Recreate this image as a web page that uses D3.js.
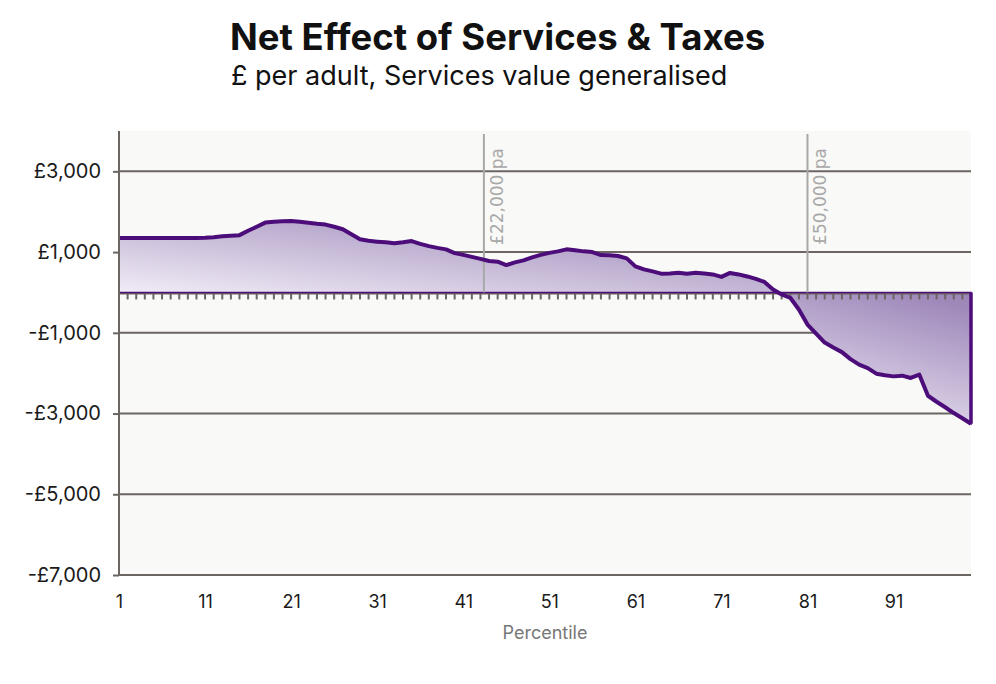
<!DOCTYPE html>
<html lang="en">
<head>
<meta charset="UTF-8">
<title>Net Effect of Services & Taxes</title>
<script src="https://cdn.jsdelivr.net/npm/d3@7/dist/d3.min.js"></script>
<style>
  body { margin: 0; background: #fff; }
  text { font-family: Inter, "Noto Sans", sans-serif; }
</style>
</head>
<body>
<script>
// percentiles 1..100
var percentiles = d3.range(1, 101);
// net effect, £ per adult
var netEffect = [
  1350, 1350, 1350, 1350, 1350, 1350, 1350, 1350, 1350, 1350,
  1355, 1370, 1390, 1405, 1420, 1528, 1627, 1731, 1751, 1764,
  1771, 1751, 1726, 1700, 1682, 1627, 1565, 1440, 1316, 1279,
  1259, 1242, 1217, 1242, 1274, 1205, 1148, 1105, 1068, 974,
  931, 882, 832, 778, 763, 678, 745, 795, 869, 931,
  981, 1018, 1068, 1043, 1018, 1001, 927, 919, 902, 845,
  646, 571, 522, 465, 472, 489, 465, 489, 472, 447,
  385, 484, 447, 397, 335, 261, 75, -50, -132, -422,
  -795, -1018, -1242, -1366, -1478, -1652, -1788, -1875, -2012, -2049,
  -2079, -2062, -2119, -2037, -2559, -2708, -2844, -2988, -3117, -3254
];
var xTicks = [1, 11, 21, 31, 41, 51, 61, 71, 81, 91];
var yTicks = [-7000, -5000, -3000, -1000, 1000, 3000];
// income markers (percentile where they fall)
var markerLabels = ["£22,000 pa", "£50,000 pa"];
var markerPos = [43.4, 81];

var data = percentiles.map(function(p, i) { return { p: p, v: netEffect[i] }; });

var width = 996, height = 684;
var margin = { top: 131, right: 25, bottom: 109, left: 119 };

var svg = d3.select("body").append("svg")
  .attr("width", width).attr("height", height);

var x = d3.scaleLinear().domain([1, 100]).range([margin.left, width - margin.right]);
var y = d3.scaleLinear().domain([-7000, 4000]).range([height - margin.bottom, margin.top]);

var gridColor = "#6b6661";
var purple = "#4c0c7a";

// gradients for the two area parts
var defs = svg.append("defs");
var gPos = defs.append("linearGradient").attr("id", "gradPos")
  .attr("x1", 0).attr("y1", 1).attr("x2", 1).attr("y2", 0);
gPos.append("stop").attr("offset", "0%").attr("stop-color", "#f1ecf6");
gPos.append("stop").attr("offset", "100%").attr("stop-color", "#9782b5");
var gNeg = defs.append("linearGradient").attr("id", "gradNeg")
  .attr("x1", 0.3).attr("y1", 1).attr("x2", 0.7).attr("y2", 0);
gNeg.append("stop").attr("offset", "0%").attr("stop-color", "#ebe5f2");
gNeg.append("stop").attr("offset", "100%").attr("stop-color", "#9e88ba");

// plot background
svg.append("rect")
  .attr("x", margin.left).attr("y", margin.top)
  .attr("width", x(100) - margin.left).attr("height", y(-7000) - margin.top)
  .attr("fill", "#f9f9f7");

// horizontal gridlines
svg.append("g").selectAll("line")
  .data(yTicks)
  .enter().append("line")
  .attr("x1", margin.left).attr("x2", x(100))
  .attr("y1", function(d) { return y(d); }).attr("y2", function(d) { return y(d); })
  .attr("stroke", gridColor).attr("stroke-width", 2);

// areas above and below zero, each with its own gradient
var areaPos = d3.area()
  .x(function(d) { return x(d.p); })
  .y0(y(0))
  .y1(function(d) { return y(Math.max(d.v, 0)); });
var areaNeg = d3.area()
  .x(function(d) { return x(d.p); })
  .y0(y(0))
  .y1(function(d) { return y(Math.min(d.v, 0)); });

svg.append("path").datum(data.filter(function(d) { return d.p <= 78; }))
  .attr("d", areaPos).attr("fill", "url(#gradPos)");
svg.append("path").datum(data.filter(function(d) { return d.p >= 77; }))
  .attr("d", areaNeg).attr("fill", "url(#gradNeg)");

// zero line + small ticks underneath
svg.append("line")
  .attr("x1", margin.left).attr("x2", x(100))
  .attr("y1", y(0) + 1).attr("y2", y(0) + 1)
  .attr("stroke", gridColor).attr("stroke-width", 2);
svg.append("g").selectAll("line")
  .data(d3.range(2, 101))
  .enter().append("line")
  .attr("x1", function(d) { return x(d); }).attr("x2", function(d) { return x(d); })
  .attr("y1", y(0) + 1).attr("y2", y(0) + 7)
  .attr("stroke", gridColor).attr("stroke-width", 2);

// outline of area along zero and the ends
svg.append("path")
  .datum(data)
  .attr("d", d3.area().x(function(d) { return x(d.p); }).y0(y(0)).y1(function(d) { return y(d.v); }))
  .attr("fill", "none").attr("stroke", purple).attr("stroke-width", 1.5);

// vertical income markers
var markers = svg.append("g").selectAll("g")
  .data(markerPos)
  .enter().append("g");
markers.append("line")
  .attr("x1", function(d) { return x(d); }).attr("x2", function(d) { return x(d); })
  .attr("y1", margin.top + 3).attr("y2", y(0))
  .attr("stroke", "#a8a8a8").attr("stroke-width", 2);
markers.append("text")
  .attr("transform", function(d) { return "translate(" + (x(d) + 19) + "," + (margin.top + 17) + ") rotate(-90)"; })
  .attr("text-anchor", "end")
  .style("font-family", "'DejaVu Sans', sans-serif")
  .attr("font-size", 17)
  .attr("fill", "#a8a8a8")
  .text(function(d, i) { return markerLabels[i]; });

// the data line
svg.append("path")
  .datum(data)
  .attr("d", d3.line().x(function(d) { return x(d.p); }).y(function(d) { return y(d.v); }))
  .attr("fill", "none").attr("stroke", purple).attr("stroke-width", 4)
  .attr("stroke-linejoin", "round");
// right edge
svg.append("line")
  .attr("x1", x(100)).attr("x2", x(100))
  .attr("y1", y(0)).attr("y2", y(netEffect[99]))
  .attr("stroke", purple).attr("stroke-width", 3.5);

// y axis
var yAxis = svg.append("g")
  .attr("transform", "translate(" + margin.left + ",0)")
  .call(d3.axisLeft(y).tickValues(yTicks).tickSize(6).tickPadding(12)
    .tickFormat(function(d) { return (d < 0 ? "-" : "") + "£" + d3.format(",")(Math.abs(d)); }));
yAxis.select(".domain").attr("stroke", gridColor).attr("stroke-width", 2)
  .attr("d", "M0," + margin.top + "V" + y(-7000));
yAxis.selectAll(".tick line").attr("stroke", gridColor).attr("stroke-width", 2);
yAxis.selectAll(".tick text").attr("font-size", 20).attr("fill", "#1a1a1a")
  .style("font-family", "Inter, sans-serif");

// x axis
var xAxis = svg.append("g")
  .attr("transform", "translate(0," + y(-7000) + ")")
  .call(d3.axisBottom(x).tickValues(xTicks).tickSize(0).tickPadding(20));
xAxis.select(".domain").remove();
xAxis.selectAll(".tick text").attr("font-size", 18).attr("fill", "#1a1a1a")
  .style("font-family", "Inter, sans-serif");

svg.append("text")
  .attr("x", 545).attr("y", 639)
  .attr("text-anchor", "middle")
  .attr("font-size", 18).attr("fill", "#777")
  .text("Percentile");

// titles
svg.append("text")
  .attr("x", 230).attr("y", 50)
  .attr("font-size", 36.5).attr("font-weight", 700).attr("fill", "#111")
  .text("Net Effect of Services & Taxes");
svg.append("text")
  .attr("x", 231).attr("y", 85)
  .attr("font-size", 27).attr("fill", "#111")
  .text("£ per adult, Services value generalised");
</script>
</body>
</html>
